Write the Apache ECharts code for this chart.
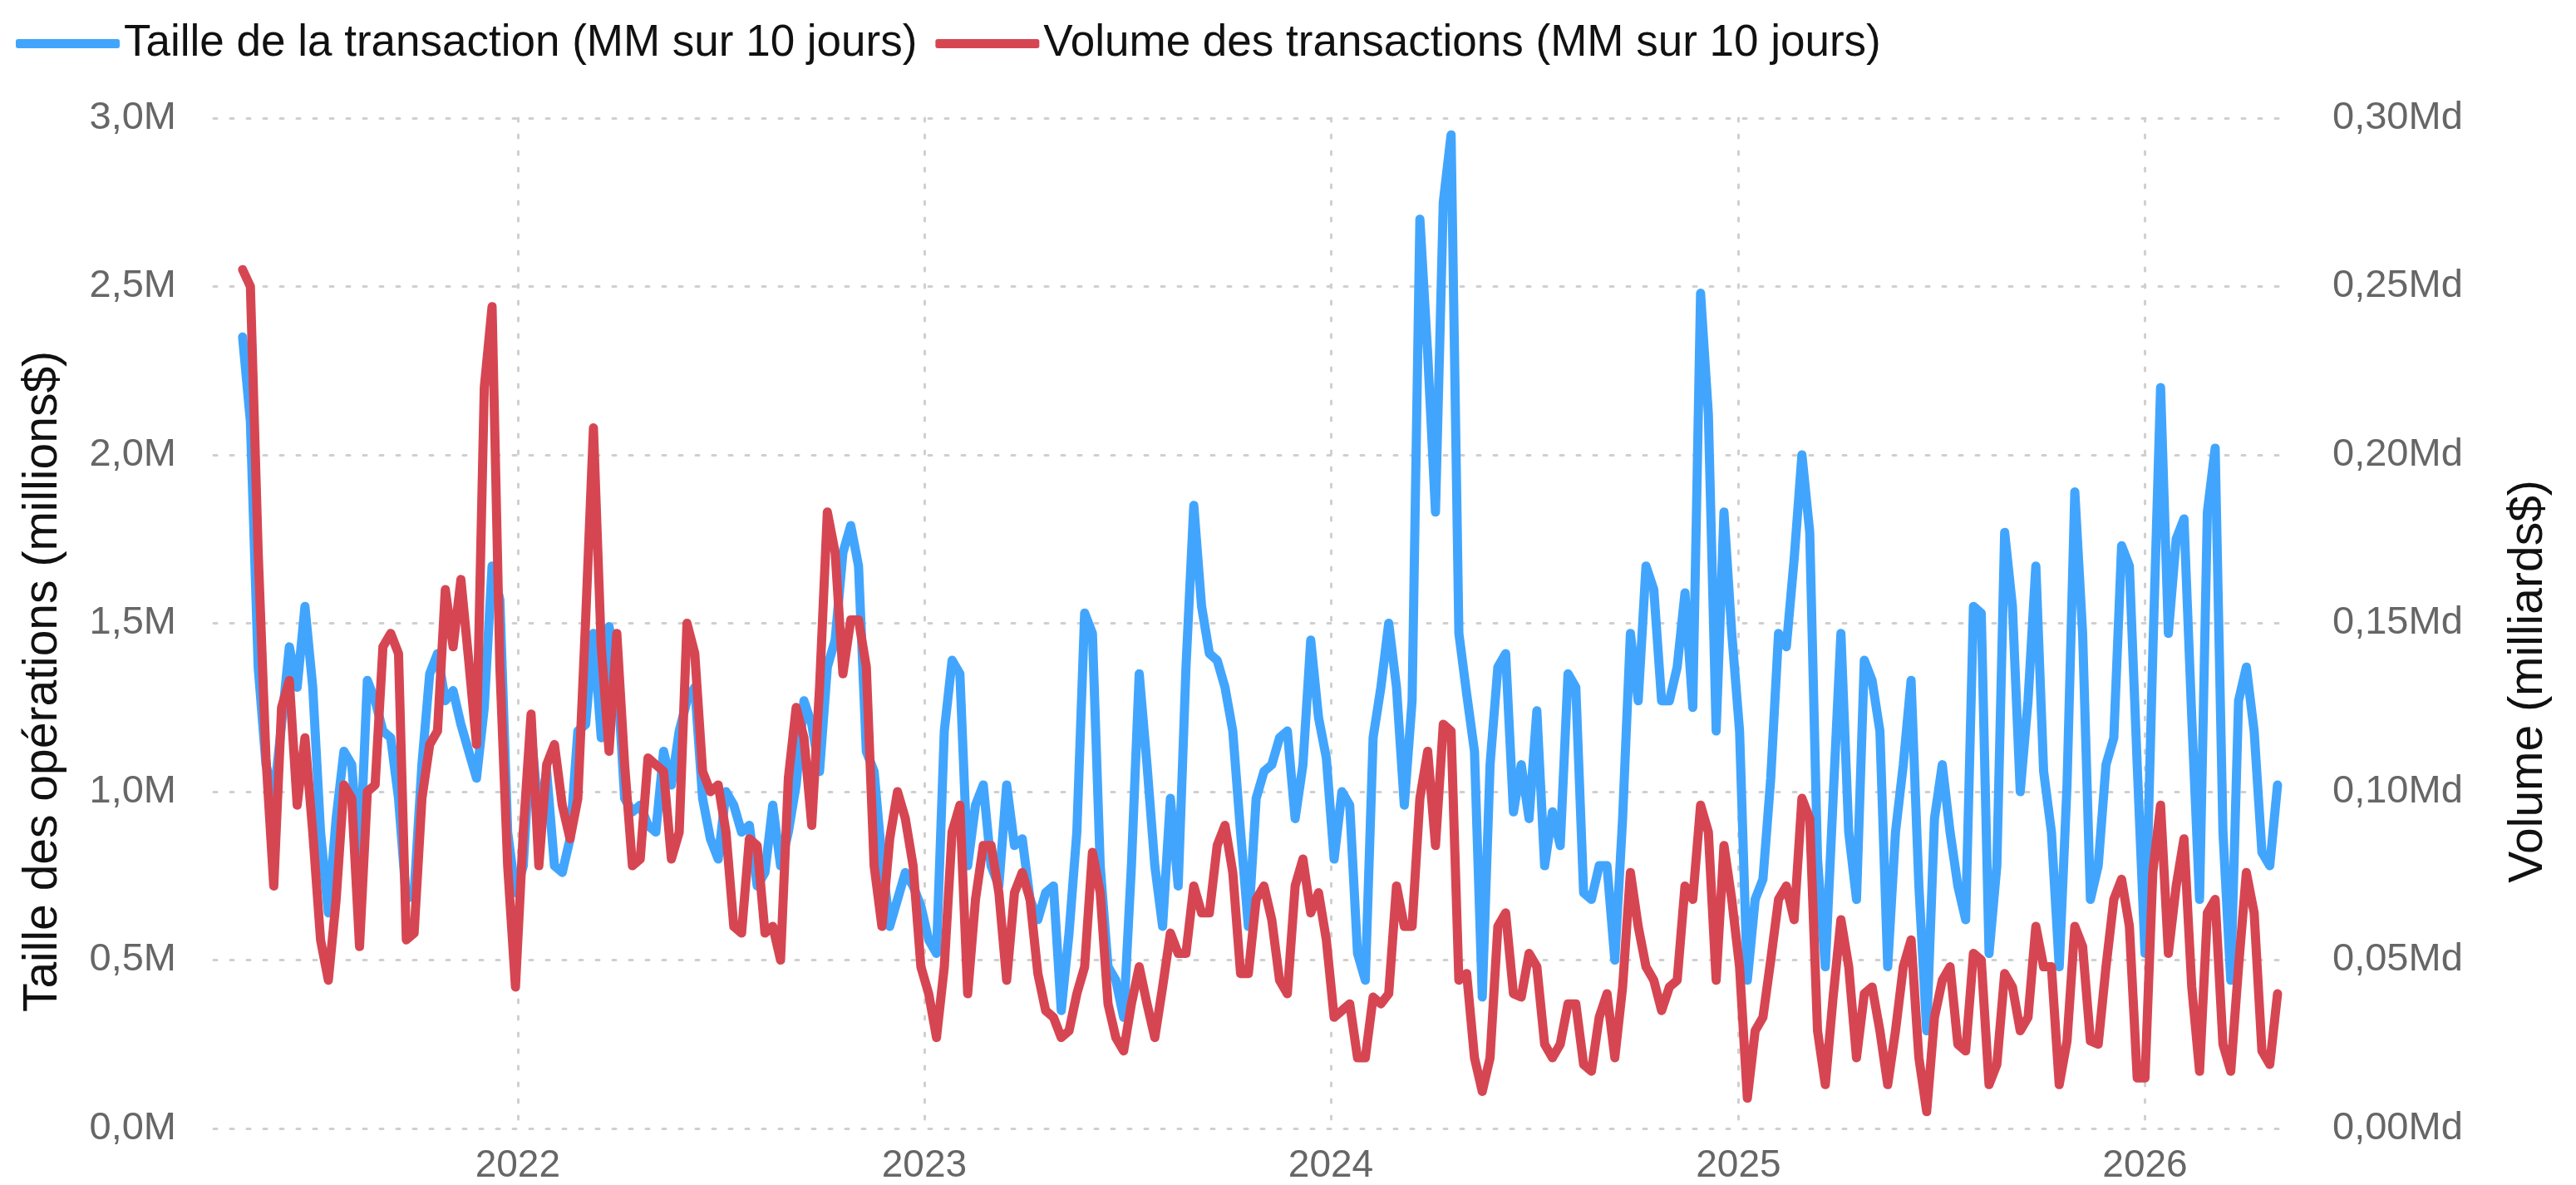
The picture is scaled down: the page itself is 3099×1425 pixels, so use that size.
<!DOCTYPE html>
<html>
<head>
<meta charset="utf-8">
<title>Taille et volume des transactions</title>
<script src="https://cdn.jsdelivr.net/npm/echarts@6/dist/echarts.min.js"></script>
<style>
  html, body { margin: 0; padding: 0; background: #fff; }
  #chart { width: 3099px; height: 1425px; }
</style>
</head>
<body>
<div id="chart"></div>
<script>
// weekly samples, first one on 2021-04-29
const startDate = [2021, 3, 29];
const stepDays = 7;

// Taille de la transaction (MM sur 10 jours), millions $
const sizeValues = [
  2.35, 2.1, 1.37, 1.08, 0.98, 1.2, 1.43, 1.31, 1.55, 1.31,
  0.88, 0.64, 0.92, 1.12, 1.08, 0.78, 1.33, 1.27, 1.18, 1.16,
  0.98, 0.68, 0.7, 1.08, 1.35, 1.41, 1.27, 1.3, 1.2, 1.12,
  1.04, 1.25, 1.67, 1.57, 0.88, 0.7, 0.78, 1.18, 0.92, 1.06,
  0.78, 0.76, 0.86, 1.18, 1.2, 1.47, 1.16, 1.49, 1.37, 0.98,
  0.94, 0.96, 0.9, 0.88, 1.12, 1.02, 1.18, 1.27, 1.31, 0.98,
  0.86, 0.8, 1.0, 0.96, 0.88, 0.9, 0.72, 0.76, 0.96, 0.78,
  0.88, 1.02, 1.27, 1.2, 1.06, 1.37, 1.45, 1.71, 1.79, 1.67,
  1.12, 1.06, 0.8, 0.6, 0.68, 0.76, 0.72, 0.66, 0.56, 0.52,
  1.18, 1.39, 1.35, 0.78, 0.96, 1.02, 0.78, 0.72, 1.02, 0.84,
  0.86, 0.68, 0.62, 0.7, 0.72, 0.35, 0.58, 0.88, 1.53, 1.47,
  0.78, 0.48, 0.44, 0.33, 0.78, 1.35, 1.08, 0.78, 0.6, 0.98,
  0.72, 1.37, 1.85, 1.55, 1.41, 1.39, 1.31, 1.18, 0.88, 0.6,
  0.98, 1.06, 1.08, 1.16, 1.18, 0.92, 1.08, 1.45, 1.22, 1.1,
  0.8, 1.0, 0.96, 0.52, 0.44, 1.16, 1.31, 1.5, 1.31, 0.96,
  1.27, 2.7, 2.3, 1.83, 2.75, 2.95, 1.47, 1.29, 1.12, 0.39,
  1.08, 1.37, 1.41, 0.94, 1.08, 0.92, 1.24, 0.78, 0.94, 0.84,
  1.35, 1.31, 0.7, 0.68, 0.78, 0.78, 0.5, 0.92, 1.47, 1.27,
  1.67, 1.6, 1.27, 1.27, 1.37, 1.59, 1.25, 2.48, 2.12, 1.18,
  1.83, 1.47, 1.18, 0.44, 0.68, 0.74, 1.04, 1.47, 1.43, 1.69,
  2.0, 1.77, 0.8, 0.48, 0.98, 1.47, 0.88, 0.68, 1.39, 1.33,
  1.18, 0.48, 0.88, 1.08, 1.33, 0.72, 0.29, 0.92, 1.08, 0.88,
  0.72, 0.62, 1.55, 1.53, 0.52, 0.78, 1.77, 1.55, 1.0, 1.27,
  1.67, 1.06, 0.88, 0.48, 1.02, 1.89, 1.47, 0.68, 0.78, 1.08,
  1.16, 1.73, 1.67, 1.08, 0.52, 1.41, 2.2, 1.47, 1.75, 1.81,
  1.22, 0.68, 1.83, 2.02, 0.88, 0.44, 1.27, 1.37, 1.18, 0.82,
  0.78, 1.02
];

// Volume des transactions (MM sur 10 jours), milliards $
const volumeValues = [
  0.255, 0.25, 0.171, 0.11, 0.072, 0.125, 0.133, 0.096, 0.116, 0.088,
  0.056, 0.044, 0.068, 0.102, 0.098, 0.054, 0.1, 0.102, 0.143, 0.147,
  0.141, 0.056, 0.058, 0.098, 0.114, 0.118, 0.16, 0.143, 0.163, 0.139,
  0.114, 0.22, 0.244, 0.137, 0.078, 0.042, 0.088, 0.123, 0.078, 0.108,
  0.114, 0.096, 0.086, 0.098, 0.151, 0.208, 0.143, 0.112, 0.147, 0.108,
  0.078, 0.08, 0.11, 0.108, 0.106, 0.08, 0.088, 0.15, 0.141, 0.106,
  0.1, 0.102, 0.088, 0.06, 0.058, 0.086, 0.084, 0.058, 0.06, 0.05,
  0.104, 0.125, 0.116, 0.09, 0.131, 0.183, 0.171, 0.135, 0.151, 0.151,
  0.137, 0.078, 0.06, 0.086, 0.1, 0.092, 0.078, 0.048, 0.04, 0.027,
  0.048, 0.088, 0.096, 0.04, 0.068, 0.084, 0.084, 0.07, 0.044, 0.07,
  0.076, 0.068, 0.046, 0.035, 0.033, 0.027, 0.029, 0.04, 0.048, 0.082,
  0.07, 0.037, 0.027, 0.023, 0.037, 0.048, 0.037, 0.027, 0.042, 0.058,
  0.052, 0.052, 0.072, 0.064, 0.064, 0.084, 0.09, 0.076, 0.046, 0.046,
  0.068, 0.072, 0.062, 0.044, 0.04, 0.072, 0.08, 0.064, 0.07, 0.056,
  0.033, 0.035, 0.037, 0.021, 0.021, 0.039, 0.037, 0.04, 0.072, 0.06,
  0.06, 0.098, 0.112, 0.084, 0.12, 0.118, 0.044, 0.046, 0.021, 0.011,
  0.021, 0.06, 0.064, 0.04, 0.039, 0.052, 0.048, 0.025, 0.021, 0.025,
  0.037, 0.037, 0.019, 0.017, 0.033, 0.04, 0.021, 0.042, 0.076, 0.06,
  0.048, 0.044, 0.035, 0.042, 0.044, 0.072, 0.068, 0.096, 0.088, 0.044,
  0.084, 0.068, 0.048, 0.009, 0.029, 0.033, 0.05, 0.068, 0.072, 0.062,
  0.098, 0.092, 0.029, 0.013, 0.039, 0.062, 0.048, 0.021, 0.04, 0.042,
  0.029, 0.013, 0.029, 0.048, 0.056, 0.021, 0.005, 0.033, 0.044, 0.048,
  0.025, 0.023, 0.052, 0.05, 0.013, 0.019, 0.046, 0.042, 0.029, 0.033,
  0.06, 0.048, 0.048, 0.013, 0.026, 0.06, 0.054, 0.026, 0.025, 0.048,
  0.068, 0.074, 0.06, 0.015, 0.015, 0.076, 0.096, 0.052, 0.072, 0.086,
  0.042, 0.017, 0.064, 0.068, 0.025, 0.017, 0.048, 0.076, 0.064, 0.023,
  0.019, 0.04
];

const sizeTicks = ['0,0M', '0,5M', '1,0M', '1,5M', '2,0M', '2,5M', '3,0M'];
const volumeTicks = ['0,00Md', '0,05Md', '0,10Md', '0,15Md', '0,20Md', '0,25Md', '0,30Md'];

const dates = sizeValues.map((_, i) =>
  new Date(startDate[0], startDate[1], startDate[2] + i * stepDays).getTime());

const DAY = 24 * 3600 * 1000;
const BLUE = '#42A5FD';
const RED = '#D64652';
const tickFont = 'Liberation Sans, Arial, sans-serif';
const titleFont = '"Liberation Sans", Arial, sans-serif';
const dotted = { color: '#cfcfcf', width: 3, type: [4, 16], cap: 'round' };

const chart = echarts.init(document.getElementById('chart'));

chart.setOption({
  animation: false,
  backgroundColor: '#ffffff',
  legend: {
    left: 14,
    top: 21,
    itemWidth: 125,
    itemHeight: 11,
    itemGap: 22,
    icon: 'roundRect',
    textStyle: { fontSize: 53, color: '#111', fontFamily: titleFont },
    data: ['Taille de la transaction (MM sur 10 jours)', 'Volume des transactions (MM sur 10 jours)']
  },
  grid: { left: 257, right: 347, top: 142, bottom: 67 },
  xAxis: {
    type: 'time',
    min: new Date(2021, 3, 3).getTime(),
    max: new Date(2026, 4, 9).getTime(),
    minInterval: 365 * DAY,
    splitNumber: 5,
    axisLine: { show: false },
    axisTick: { show: false },
    axisLabel: {
      showMinLabel: false,
      showMaxLabel: false,
      formatter: (v) => {
        const d = new Date(v);
        return (d.getMonth() === 0 && d.getDate() === 1) ? String(d.getFullYear()) : '';
      },
      color: '#666', fontSize: 46, fontFamily: tickFont, margin: 22
    },
    splitLine: { show: true, showMinLine: false, showMaxLine: false, lineStyle: dotted }
  },
  yAxis: [
    {
      type: 'value',
      min: 0, max: 3, interval: 0.5,
      name: 'Taille des opérations (millions$)',
      nameLocation: 'middle',
      nameRotate: 90,
      nameGap: 176,
      nameTextStyle: { fontSize: 57, color: '#111', fontFamily: titleFont, padding: [0, 140, 0, 0] },
      axisLine: { show: false },
      axisTick: { show: false },
      axisLabel: {
        formatter: (v) => sizeTicks[Math.round(v / 0.5)],
        color: '#666', fontSize: 47, fontFamily: tickFont, margin: 45
      },
      splitLine: { show: true, lineStyle: dotted }
    },
    {
      type: 'value',
      min: 0, max: 0.3, interval: 0.05,
      name: 'Volume (milliards$)',
      nameLocation: 'middle',
      nameRotate: 90,
      nameGap: 262,
      nameTextStyle: { fontSize: 57, color: '#111', fontFamily: titleFont, padding: [0, 140, 0, 0] },
      axisLine: { show: false },
      axisTick: { show: false },
      axisLabel: {
        formatter: (v) => volumeTicks[Math.round(v / 0.05)],
        color: '#666', fontSize: 47, fontFamily: tickFont, margin: 54
      },
      splitLine: { show: false }
    }
  ],
  series: [
    {
      name: 'Taille de la transaction (MM sur 10 jours)',
      type: 'line',
      yAxisIndex: 0,
      symbol: 'none',
      color: BLUE,
      lineStyle: { width: 11, color: BLUE, cap: 'round', join: 'round' },
      data: dates.map((d, i) => [d, sizeValues[i]])
    },
    {
      name: 'Volume des transactions (MM sur 10 jours)',
      type: 'line',
      yAxisIndex: 1,
      symbol: 'none',
      color: RED,
      lineStyle: { width: 11, color: RED, cap: 'round', join: 'round' },
      data: dates.map((d, i) => [d, volumeValues[i]])
    }
  ]
});
</script>
</body>
</html>
